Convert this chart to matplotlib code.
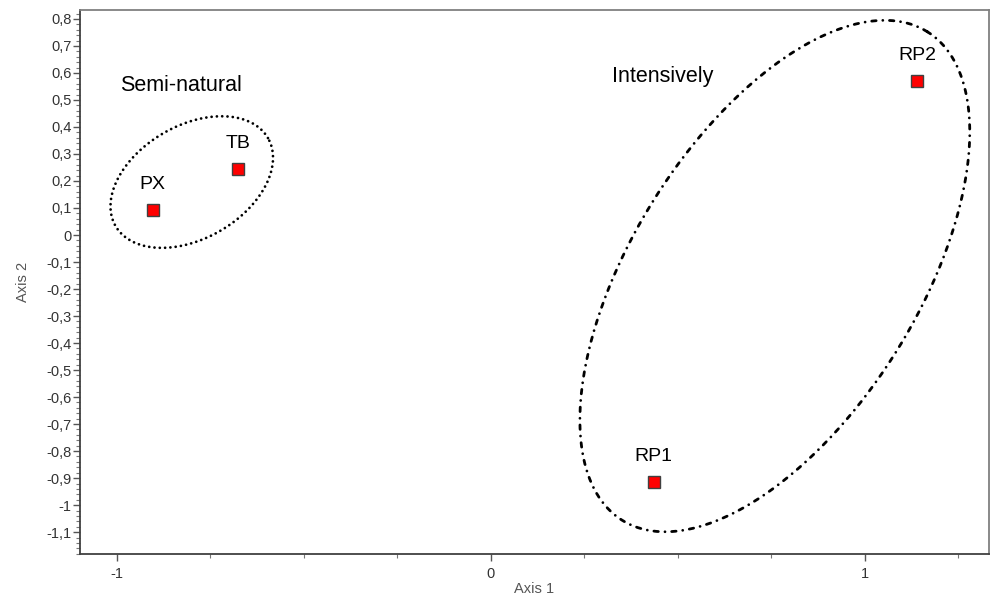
import numpy as np
import matplotlib
matplotlib.use("Agg")
import matplotlib.pyplot as plt
from matplotlib.ticker import FixedLocator, MultipleLocator, FuncFormatter

plt.rcParams['font.family'] = ['Liberation Sans', 'DejaVu Sans']

# ---- data ----
site_names = ["PX", "TB", "RP1", "RP2"]
axis1 = [-0.905, -0.677, 0.436, 1.141]
axis2 = [0.093, 0.244, -0.915, 0.570]

group_names = ["Semi-natural", "Intensively"]
group_label_x = [-0.83, 0.46]
group_label_y = [0.555, 0.585]

# ellipse definitions: centre (data), semi-axes (pixels), angle (deg, display)
ell_cx = [-0.80, 0.76]
ell_cy = [0.196, -0.152]
ell_a = [88.0, 288.0]
ell_b = [56.5, 143.0]
ell_ang = [30.0, 58.0]

xticks = [-1, 0, 1]
yticks = [round(-1.1 + 0.1 * i, 1) for i in range(20)]

fig = plt.figure(figsize=(9.9, 5.98), dpi=100)
ax = fig.add_axes([80 / 990, 1 - 554 / 598, 909 / 990, 544 / 598])
ax.set_xlim(-1.099, 1.333)
ax.set_ylim(-1.181, 0.833)

# ellipses drawn in display space and converted to data
fig.canvas.draw()
t = np.linspace(0, 2 * np.pi, 600)
styles = [(0, (0.01, 1.9)), (0, (1.6, 2.4, 0.01, 2.4))]
for cx, cy, a, b, ang, ls in zip(ell_cx, ell_cy, ell_a, ell_b, ell_ang, styles):
    th = np.deg2rad(ang)
    c = ax.transData.transform((cx, cy))
    px = c[0] + a * np.cos(t) * np.cos(th) - b * np.sin(t) * np.sin(th)
    py = c[1] + a * np.cos(t) * np.sin(th) + b * np.sin(t) * np.cos(th)
    d = ax.transData.inverted().transform(np.column_stack([px, py]))
    ax.plot(d[:, 0], d[:, 1], color='black', lw=2.0, linestyle=ls,
            dash_capstyle='round', solid_capstyle='round')

ax.plot(axis1, axis2, linestyle='none', marker='s', markersize=8.5,
        markerfacecolor='#ff0000', markeredgecolor='#404040',
        markeredgewidth=1.0, zorder=5)

for name, x, y in zip(site_names, axis1, axis2):
    ax.annotate(name, (x, y), xytext=(0, 12), textcoords='offset points',
                ha='center', va='bottom', fontsize=14, color='black')

for name, x, y in zip(group_names, group_label_x, group_label_y):
    ax.text(x, y, name, ha='center', va='center', fontsize=15.5, color='black')

fmt = FuncFormatter(lambda v, p: ("%g" % round(v, 2)).replace('.', ',') if abs(v) > 1e-9 else "0")
ax.xaxis.set_major_locator(FixedLocator(xticks))
ax.xaxis.set_minor_locator(MultipleLocator(0.25))
ax.yaxis.set_major_locator(FixedLocator(yticks))
ax.yaxis.set_minor_locator(MultipleLocator(0.02))
ax.xaxis.set_major_formatter(fmt)
ax.yaxis.set_major_formatter(fmt)

ax.tick_params(axis='both', which='major', direction='out', length=5,
               width=1, color='#555555', labelsize=10.5, labelcolor='#333333', pad=1)
ax.tick_params(axis='both', which='minor', direction='out', length=3,
               width=0.8, color='#777777')
ax.tick_params(axis='x', which='major', pad=4)

for side in ['left', 'bottom']:
    ax.spines[side].set_color('#404040')
    ax.spines[side].set_linewidth(1.3)
for side in ['top', 'right']:
    ax.spines[side].set_color('#808080')
    ax.spines[side].set_linewidth(1.3)

ax.set_xlabel("Axis 1", fontsize=10.5, color='#555555', labelpad=1)
ax.set_ylabel("Axis 2", fontsize=10.5, color='#555555', labelpad=12)

fig.savefig("out.png", dpi=100)
